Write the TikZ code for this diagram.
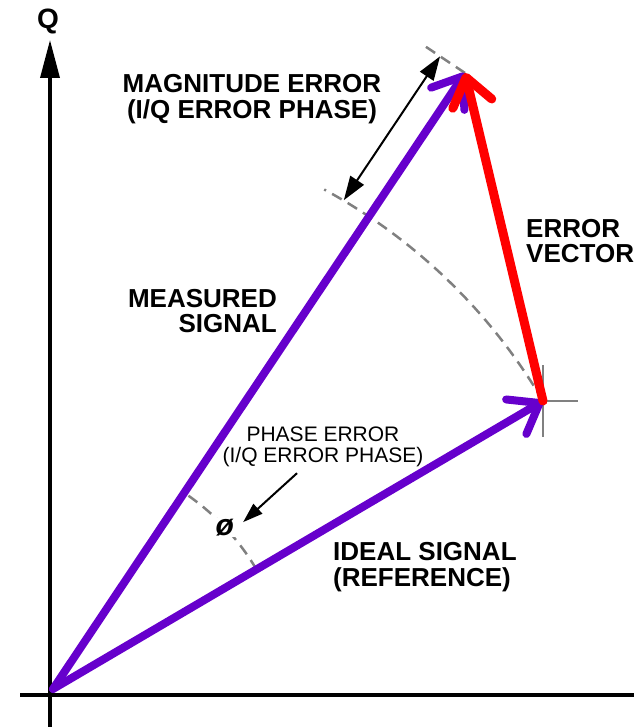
\documentclass[tikz,border=0pt]{standalone}
\usepackage{fontspec}
\setmainfont{Liberation Sans}
\usetikzlibrary{positioning, arrows.meta, calc}
\definecolor{sigpurple}{HTML}{6600CC}
\definecolor{errred}{HTML}{FF0000}
\definecolor{guidegray}{HTML}{808080}

\tikzset{
  axisline/.style={line width=3.5pt, black},
  vec/.style={line width=8pt, line cap=round,
              -{Straight Barb[round, length=27pt, width=40pt]}},
  guide/.style={guidegray, line width=2.5pt, dash pattern=on 11pt off 7pt},
  crossline/.style={guidegray, line width=2.5pt},
  pointer/.style={black, line width=2pt},
  biglabel/.style={font=\bfseries\fontsize{26}{25.5}\selectfont, inner sep=0pt},
  smalllabel/.style={font=\fontsize{21}{21}\selectfont, inner sep=0pt},
}

\begin{document}
\begin{tikzpicture}[x=1pt, y=1pt]
  \useasboundingbox (0,0) rectangle (634,727);

  % axes
  \coordinate (xl) at (20,32);
  \coordinate (xr) at (634,32);
  \coordinate (yb) at (50,0);
  \coordinate (yt) at (50,687);
  \draw[axisline] (xl) -- (xr);
  \draw[axisline, -{Triangle[length=38pt, width=19pt]}] (yb) -- (yt);
  \node[font=\bfseries\fontsize{28}{28}\selectfont] (qlbl) at (48,706) {Q};

  % vector end points
  \coordinate (O) at (53,38);
  \coordinate (M) at (465,654);
  \coordinate (I) at (543,326);

  % magnitude circle and ticks
  \draw[guide] let \p1=($(I)-(O)$), \n1={veclen(\x1,\y1)}, \n2={atan2(\y1,\x1)}
    in (I) arc[start angle=\n2, end angle=61.5, radius=\n1];
  \coordinate (mtick) at ($(M)!52pt!-90:(O)$);
  \draw[guide] (M) -- (mtick);

  % phase angle
  \draw[guide] let \p1=($(I)-(O)$), \p2=($(M)-(O)$),
    \n1={atan2(\y1,\x1)}, \n2={atan2(\y2,\x2)}
    in ($(O)!236pt!(I)$) arc[start angle=\n1, end angle=\n2, radius=236];
  \node[fill=white, inner sep=1pt, font=\bfseries\itshape\fontsize{30}{30}\selectfont]
    (phi) at ($(O)+(43.3:236)$) {ø};

  % crosshair at ideal point
  \draw[crossline] ([xshift=-35pt]I) -- ([xshift=35pt]I);
  \draw[crossline] ([yshift=-36pt]I) -- ([yshift=36pt]I);

  % vectors
  \draw[vec, sigpurple] (O) -- (M);
  \draw[vec, sigpurple] (O) -- (I);
  \draw[vec, errred, line width=9pt] (I) -- (M);

  % magnitude error arrow
  \coordinate (magA) at ($(O)!568pt!(M)!30pt!90:(M)$);
  \coordinate (magB) at ($(M)!30pt!-90:(O)$);
  \draw[pointer, {Triangle[length=24pt, width=16pt]}-{Triangle[length=24pt, width=16pt]}] (magA) -- (magB);

  % labels
  \node[biglabel, align=center] (maglbl) at (252,628) {MAGNITUDE ERROR\\(I/Q ERROR PHASE)};
  \node[biglabel, align=left, anchor=west] (errlbl) at (526,486) {ERROR\\VECTOR};
  \node[biglabel, align=right, anchor=east] (measlbl) at (277,416) {MEASURED\\SIGNAL};
  \node[smalllabel, align=center] (phaselbl) at (323,280) {PHASE ERROR\\(I/Q ERROR PHASE)};
  \node[biglabel, align=left, anchor=west] (ideallbl) at (333,160) {IDEAL SIGNAL\\(REFERENCE)};

  \draw[pointer, -{Triangle[length=20pt, width=13pt]}]
    ([xshift=-26pt, yshift=-6pt]phaselbl.south) -- ([xshift=8pt, yshift=5pt]phi.east);
\end{tikzpicture}
\end{document}
